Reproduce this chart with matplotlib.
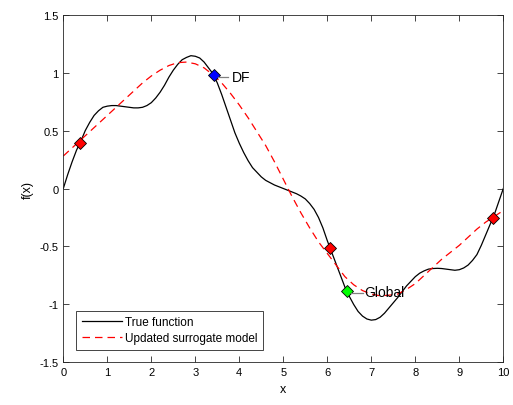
import numpy as np
import matplotlib
matplotlib.use("Agg")
import matplotlib.pyplot as plt

plt.rcParams['font.family'] = ['Liberation Sans', 'DejaVu Sans']

# true function at 0.1 steps
x_fine = [i * 0.1 for i in range(101)]
true_f = [0.00, 0.12, 0.23, 0.33, 0.41, 0.50, 0.57, 0.63, 0.67, 0.70,
          0.71, 0.715, 0.715, 0.71, 0.705, 0.70, 0.695, 0.695, 0.70, 0.715,
          0.74, 0.78, 0.83, 0.89, 0.96, 1.02, 1.07, 1.11, 1.13, 1.145,
          1.14, 1.125, 1.09, 1.04, 0.99, 0.91, 0.81, 0.70, 0.59, 0.48,
          0.39, 0.31, 0.24, 0.18, 0.14, 0.10, 0.07, 0.05, 0.03, 0.015,
          0.00, -0.015, -0.03, -0.045, -0.065, -0.09, -0.13, -0.18, -0.25, -0.34,
          -0.45, -0.55, -0.65, -0.75, -0.85, -0.93, -1.00, -1.06, -1.10, -1.125,
          -1.135, -1.13, -1.11, -1.075, -1.03, -0.985, -0.94, -0.89, -0.84, -0.80,
          -0.76, -0.73, -0.71, -0.695, -0.69, -0.688, -0.69, -0.695, -0.70, -0.705,
          -0.70, -0.685, -0.66, -0.62, -0.57, -0.49, -0.40, -0.31, -0.22, -0.11,
          0.00]

# surrogate model read at 0.2 steps
x_grid = [i * 0.2 for i in range(51)]
surrogate = [0.28, 0.35, 0.42, 0.49, 0.56, 0.63, 0.70, 0.77, 0.84, 0.91,
             0.97, 1.02, 1.06, 1.085, 1.09, 1.075, 1.04, 0.98, 0.91, 0.82,
             0.72, 0.61, 0.49, 0.37, 0.23, 0.08, -0.07, -0.21, -0.34, -0.46,
             -0.56, -0.66, -0.76, -0.83, -0.88, -0.91, -0.925, -0.92, -0.91, -0.87,
             -0.82, -0.75, -0.68, -0.61, -0.55, -0.49, -0.42, -0.35, -0.29, -0.24,
             -0.19]

# sample points
samp_x = [0.38, 6.05, 9.77]
samp_y = [0.39, -0.516, -0.254]
df_pt = (3.42, 0.98)
glob_pt = (6.44, -0.88)

fig = plt.figure(figsize=(5.13, 4.06), dpi=100)
ax = fig.add_axes([0.1234, 0.1047, 0.8577, 0.8571])

ax.plot(x_fine, true_f, color='black', lw=0.9, label='True function')
ax.plot(x_grid, surrogate, color='red', lw=0.9, dashes=(6, 4),
        label='Updated surrogate model')

ax.plot(samp_x, samp_y, 'D', ms=6, mfc='red', mec='black', mew=0.6)
ax.plot(*df_pt, 'D', ms=6, mfc='blue', mec='black', mew=0.6)
ax.plot(*glob_pt, 'D', ms=6, mfc='#00ff00', mec='black', mew=0.6)

# annotation leaders
ax.plot([3.52, 3.75], [0.96, 0.96], color='0.5', lw=0.9)
ax.text(3.83, 0.96, 'DF', fontsize=10, va='center', ha='left')
ax.plot([6.53, 6.82], [-0.90, -0.90], color='0.5', lw=0.9)
ax.text(6.84, -0.89, 'Global', fontsize=10, va='center', ha='left')

ax.set_xlim(0, 10)
ax.set_ylim(-1.5, 1.5)
ax.set_xticks(range(0, 11))
ax.set_yticks([-1.5, -1, -0.5, 0, 0.5, 1, 1.5])
ax.set_yticklabels(['-1.5', '-1', '-0.5', '0', '0.5', '1', '1.5'])
ax.tick_params(direction='in', top=True, right=True, length=4, width=0.6,
               labelsize=8, color='0.15')
for s in ax.spines.values():
    s.set_linewidth(0.6)
    s.set_color('0.15')

ax.set_xlabel('x', fontsize=9)
ax.set_ylabel('f(x)', fontsize=9)

leg = ax.legend(loc='lower left', fontsize=8.5, fancybox=False, framealpha=1,
                edgecolor='0.15', borderaxespad=1.1, handlelength=3.4,
                handletextpad=0.3, borderpad=0.45, labelspacing=0.35)
leg.get_frame().set_linewidth(0.6)

fig.savefig('out.png', dpi=100)
